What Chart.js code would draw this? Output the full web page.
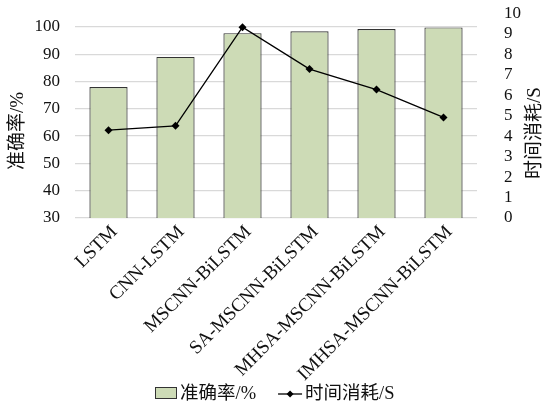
<!DOCTYPE html>
<html>
<head>
<meta charset="utf-8">
<script src="https://cdn.jsdelivr.net/npm/chart.js@4"></script>
<style>
  html, body { margin:0; padding:0; background:#fff; }
  #wrap { width:544px; height:406px; }
</style>
</head>
<body>
<div id="wrap"><canvas id="chart" width="544" height="406"></canvas></div>
<script>

const models = ['LSTM','CNN-LSTM','MSCNN-BiLSTM','SA-MSCNN-BiLSTM','MHSA-MSCNN-BiLSTM','IMHSA-MSCNN-BiLSTM']
const accuracy = [78.0, 89.0, 97.7, 98.4, 99.2, 99.8]
const timeCost = [4.29, 4.50, 9.32, 7.27, 6.27, 4.91]
const accLabel = '准确率/%'
const timeLabel = '时间消耗/S'

const FONT = "'Liberation Serif', 'Times New Roman', 'Noto Sans CJK SC', serif"
const barFill = '#cddbb6'
const barEdge = '#333'
const textColor = '#111'

// axis titles + legend, drawn on top of the chart
const extras = {
  id:'extras',
  afterDraw(chart){
    const ctx = chart.ctx
    ctx.save()
    ctx.fillStyle = textColor
    ctx.font = '19px ' + FONT
    ctx.textAlign = 'center'
    ctx.textBaseline = 'middle'
    ctx.translate(18,131)
    ctx.rotate(-Math.PI/2)
    ctx.fillText(accLabel,0,0)
    ctx.restore()

    ctx.save()
    ctx.fillStyle = textColor
    ctx.font = '19px ' + FONT
    ctx.textAlign = 'center'
    ctx.textBaseline = 'middle'
    ctx.translate(535,133)
    ctx.rotate(-Math.PI/2)
    ctx.fillText(timeLabel,0,0)
    ctx.restore()

    // legend
    const ly = 394
    ctx.save()
    ctx.font = '18.5px ' + FONT
    ctx.textBaseline = 'middle'
    ctx.textAlign = 'left'
    ctx.fillStyle = barFill
    ctx.fillRect(155.5,387.5,21,11)
    ctx.strokeStyle = barEdge
    ctx.lineWidth = 1
    ctx.strokeRect(155.5,387.5,21,11)
    ctx.fillStyle = textColor
    ctx.fillText(accLabel,180,ly)
    const x2 = 180 + ctx.measureText(accLabel).width + 22
    ctx.strokeStyle = '#000'
    ctx.lineWidth = 1.3
    ctx.beginPath()
    ctx.moveTo(x2,ly)
    ctx.lineTo(x2+24,ly)
    ctx.stroke()
    ctx.fillStyle = '#000'
    ctx.beginPath()
    ctx.moveTo(x2+12,ly-3.5)
    ctx.lineTo(x2+15.5,ly)
    ctx.lineTo(x2+12,ly+3.5)
    ctx.lineTo(x2+8.5,ly)
    ctx.closePath()
    ctx.fill()
    ctx.fillStyle = textColor
    ctx.fillText(timeLabel,x2+27,ly)
    ctx.restore()
  }
}

const ctx = document.getElementById('chart')

new Chart(ctx, {

  data:{
    labels:models,
    datasets:[
      {
        type:'bar',
        label:accLabel,
        data:accuracy,
        yAxisID:'y',
        backgroundColor:barFill,
        borderColor:barEdge,
        borderWidth:1.2,
        categoryPercentage:1,
        barPercentage:0.57,
        order:1
      },
      {
        type:'line',
        label:timeLabel,
        data:timeCost,
        yAxisID:'y1',
        borderColor:'#000',
        borderWidth:1.3,
        backgroundColor:'#000',
        pointStyle:'rectRot',
        pointRadius:4,
        pointBorderWidth:0,
        tension:0,
        order:0
      }
    ]
  },

  options:{
    responsive:false,
    animation:false,
    layout:{
      padding:{ top:13, left:0, right:0, bottom:0 }
    },
    plugins:{
      tooltip:{ enabled:false },
      legend:{ display:false }
    },
    scales:{
      x:{
        offset:true,
        grid:{ display:false },
        border:{ display:false },
        ticks:{
          color:textColor,
          font:{ family:FONT, size:19 },
          minRotation:45,
          maxRotation:45,
          autoSkip:false,
          labelOffset:6,
          padding:-5
        },
        afterFit(scale){ scale.height = 188 }
      },
      y:{
        position:'left',
        min:30,
        max:105,
        border:{ display:false },
        grid:{ color:'#d9d9d9', lineWidth:1.2, drawTicks:true, tickLength:12, tickColor:'rgba(0,0,0,0)' },
        ticks:{
          stepSize:10,
          includeBounds:false,
          padding:3,
          color:textColor,
          font:{ family:FONT, size:17 }
        },
        afterFit(scale){ scale.width = 75 }
      },
      y1:{
        position:'right',
        min:0,
        max:10,
        border:{ display:false },
        grid:{ color:'rgba(0,0,0,0)', drawOnChartArea:false, drawTicks:true, tickLength:24, tickColor:'rgba(0,0,0,0)' },
        ticks:{
          stepSize:1,
          autoSkip:false,
          padding:3,
          color:textColor,
          font:{ family:FONT, size:17 }
        },
        afterFit(scale){ scale.width = 67 }
      }
    }
  },

  plugins:[extras]
})

</script>
</body>
</html>
